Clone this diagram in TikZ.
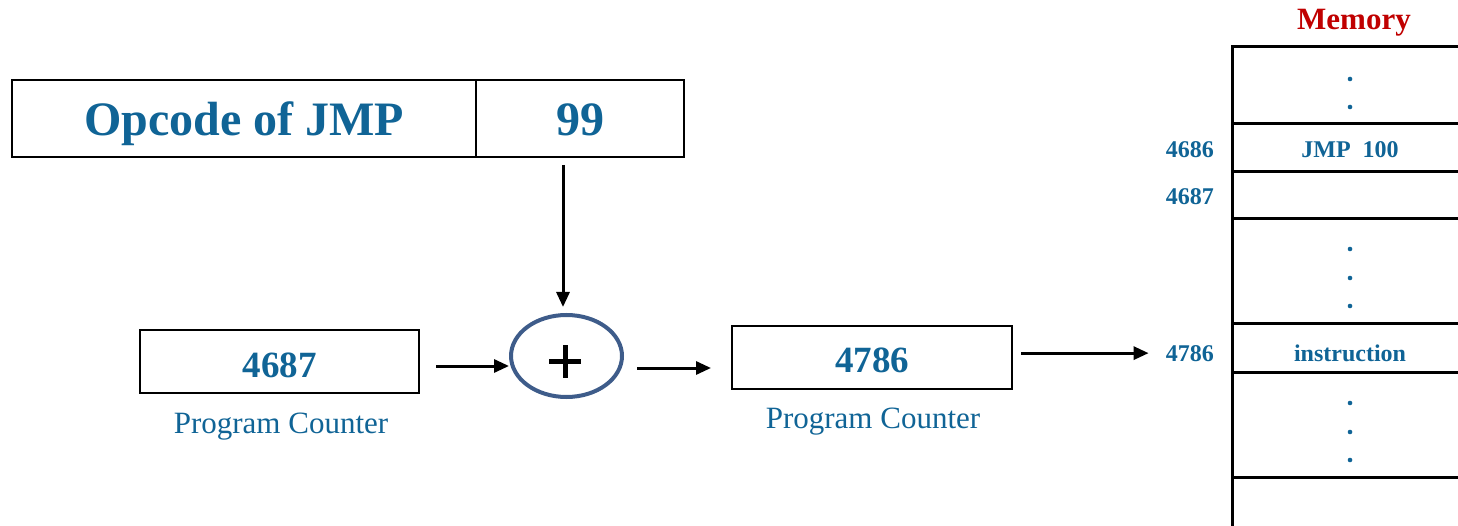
\documentclass[tikz,border=0pt]{standalone}
\usepackage{fontspec}
\setmainfont{Liberation Serif}
\usetikzlibrary{arrows.meta,shapes.geometric}
\definecolor{tblue}{RGB}{16,100,150}
\definecolor{eblue}{RGB}{62,92,138}
\definecolor{mred}{RGB}{192,0,0}
\begin{document}
\begin{tikzpicture}[x=1pt,y=-1pt,
  box/.style={draw=black,line width=2.6pt,inner sep=0pt,text=tblue},
  arr/.style={line width=3pt,-{Triangle[length=15pt,width=13pt]}},
  memline/.style={line width=3pt},
  lbl/.style={inner sep=0pt,text=tblue,anchor=base},
  addr/.style={inner sep=0pt,text=tblue,anchor=base east,font=\fontsize{24}{28}\selectfont\bfseries},
  cell/.style={inner sep=0pt,text=tblue,anchor=base,font=\fontsize{24}{28}\selectfont\bfseries},
  dot/.style={fill=tblue}]
\useasboundingbox (0,0) rectangle (1458,526);
% instruction format
\node[box,minimum width=464pt,minimum height=77pt] (opc) at (244,118.5) {};
\node[lbl,font=\fontsize{48}{55}\selectfont\bfseries] (opct) at (244,136) {Opcode of JMP};
\node[box,minimum width=208pt,minimum height=77pt] (v99) at (580,118.5) {};
\node[lbl,font=\fontsize{48}{55}\selectfont\bfseries] (v99t) at (580,136) {99};
% adder
\node[draw=eblue,line width=4pt,ellipse,minimum width=111pt,minimum height=82pt,inner sep=0pt] (add) at (566.5,356) {};
\draw[line width=5pt] (549,361) -- (581,361);
\draw[line width=5pt] (565,345) -- (565,378);
% program counters
\node[box,minimum width=279pt,minimum height=63pt] (pc1) at (279.5,361.5) {};
\node[lbl,font=\fontsize{37}{42}\selectfont\bfseries] (pc1t) at (279.5,377) {4687};
\node[lbl,font=\fontsize{31}{35}\selectfont] (pc1l) at (281,433) {Program Counter};
\node[box,minimum width=280pt,minimum height=63pt] (pc2) at (872,357.5) {};
\node[lbl,font=\fontsize{37}{42}\selectfont\bfseries] (pc2t) at (872,372) {4786};
\node[lbl,font=\fontsize{31}{35}\selectfont] (pc2l) at (873,428) {Program Counter};
% memory
\node[lbl,text=mred,font=\fontsize{31}{36}\selectfont\bfseries] (memt) at (1354,30) {Memory};
\draw[memline] (1232,45.5) -- (1232,530);
\foreach \yy in {47,124,172,219,324,372,477}
  \draw[memline] (1232,\yy) -- (1462,\yy);
\node[addr] (a4686) at (1214,158) {4686};
\node[addr] (a4687) at (1214,205) {4687};
\node[addr] (a4786) at (1214,361) {4786};
\node[cell] (c4686) at (1350,158) {JMP\ \ 100};
\node[cell] (c4786) at (1350,361) {instruction};
\foreach \yy in {79,107,249,278,306,403,432,460}
  \fill[dot] (1350,\yy) circle (2.3);
% connectors
\coordinate (dn) at (563,165);
\coordinate (inL) at (436,366);
\coordinate (outR) at (637,368);
\coordinate (inR) at (711,368);
\draw[arr,shorten >=6pt] (dn) -- (dn |- add.north);
\draw[arr] (inL) -- (inL -| add.west);
\draw[arr] (outR) -- (inR);
\draw[arr,shorten <=8pt,shorten >=17pt] (pc2.east |- a4786.west) -- (a4786.west);
\end{tikzpicture}
\end{document}
